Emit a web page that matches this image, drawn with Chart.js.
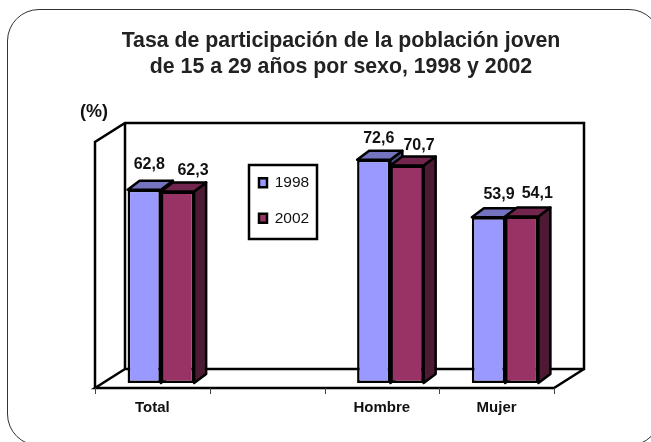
<!doctype html>
<html lang="es">
  <head>
    <meta charset="utf-8">
    <title>Tasa de participación de la población joven</title>
    <style>
      * { margin: 0; padding: 0; }
      html, body { width: 651px; height: 442px; overflow: hidden; background: #fff; }
      .frame {
        position: absolute; left: 7px; top: 9px; width: 652px; height: 435px;
        border: 1.5px solid #333; border-radius: 32px;
      }
      canvas { position: absolute; left: 0; top: 0; }
    </style>
  </head>
  <body>
    <div class="frame"></div>
    <canvas id="myChart" width="651" height="442"></canvas>
    <script src="https://cdn.jsdelivr.net/npm/chart.js/dist/chart.umd.min.js"></script>
    <script>
    // data
    const categories = ['Total', '', 'Hombre', 'Mujer'];
    const values1998 = [62.8, null, 72.6, 53.9];
    const values2002 = [62.3, null, 70.7, 54.1];
    const seriesNames = ['1998', '2002'];
    const titleLines = ['Tasa de participación de la población joven', 'de 15 a 29 años por sexo, 1998 y 2002'];
    const unitLabel = '(%)';

    // nudges for the value labels, same order as the series [dx, dy]
    const labelNudge = [
      [[5, -25], null, [5, -21], [10.5, -23]],
      [[15.5, -21], null, [12, -20], [15.5, -23]]
    ];

    const depth = { x: 30, y: 19 };    // back wall offset
    const barShift = { x: 8.5, y: -5 }; // bars stand a bit inside the floor
    const barDepth = { x: 12, y: 9 };

    function poly(ctx, pts, fill) {
      ctx.beginPath();
      pts.forEach((p, i) => i ? ctx.lineTo(p[0], p[1]) : ctx.moveTo(p[0], p[1]));
      ctx.closePath();
      ctx.fillStyle = fill;
      ctx.fill();
      ctx.stroke();
    }

    const box3d = {
      id: 'box3d',
      beforeDraw(chart) {
        const ctx = chart.ctx;
        // legend box, then move the legend into it
        ctx.save();
        ctx.strokeStyle = '#000';
        ctx.lineWidth = 2.5;
        ctx.strokeRect(249, 165, 68, 74);
        ctx.restore();
        chart.legend.left = 239;
        chart.legend.right = 330;
        chart.legend.top = 155;
        chart.legend.bottom = 300;
        // title sits right of the canvas centre
        chart.titleBlock.left = 31;
        chart.titleBlock.right = 651;
      },
      beforeDatasetsDraw(chart) {
        const { ctx, chartArea: a } = chart;
        const bx = a.left + depth.x, by = a.top - depth.y;
        const bb = a.bottom - depth.y, br = a.right + depth.x;
        ctx.save();
        ctx.strokeStyle = '#000';
        ctx.lineWidth = 2.5;
        ctx.lineJoin = 'miter';
        // walls and floor
        ctx.beginPath();
        ctx.moveTo(a.left, a.bottom);
        ctx.lineTo(a.left, a.top);
        ctx.lineTo(bx, by);
        ctx.lineTo(br, by);
        ctx.lineTo(br, bb);
        ctx.lineTo(bx, bb);
        ctx.lineTo(bx, by);
        ctx.moveTo(bx, bb);
        ctx.lineTo(a.left, a.bottom);
        ctx.lineTo(a.right, a.bottom);
        ctx.lineTo(br, bb);
        ctx.stroke();
        // axis ticks
        ctx.lineWidth = 1;
        ctx.strokeStyle = '#444';
        const step = (a.right - a.left) / categories.length;
        ctx.beginPath();
        for (let i = 0; i <= categories.length; i++) {
          const x = Math.round(a.left + i * step) + 0.5;
          ctx.moveTo(x, a.bottom);
          ctx.lineTo(x, a.bottom + 6);
        }
        ctx.stroke();
        ctx.restore();

        // bars are drawn shifted, restored in afterDatasetsDraw
        ctx.save();
        ctx.translate(barShift.x, barShift.y);
        ctx.strokeStyle = '#000';
        ctx.lineWidth = 2.5;
        ctx.lineJoin = 'round';
        categories.forEach((c, i) => {
          chart.data.datasets.forEach((ds, d) => {
            if (ds.data[i] == null) return;
            const bar = chart.getDatasetMeta(d).data[i];
            const l = bar.x - bar.width / 2, r = bar.x + bar.width / 2;
            poly(ctx, [[r, bar.y], [r + barDepth.x, bar.y - barDepth.y],
              [r + barDepth.x, bar.base - barDepth.y], [r, bar.base]], ds.sideColor);
            poly(ctx, [[l, bar.y], [l + barDepth.x, bar.y - barDepth.y],
              [r + barDepth.x, bar.y - barDepth.y], [r, bar.y]], ds.topColor);
          });
        });
      },
      afterDatasetsDraw(chart) {
        const ctx = chart.ctx;
        ctx.restore();
        ctx.save();
        ctx.fillStyle = '#111';
        ctx.font = 'bold 16px "Liberation Sans", Arial, sans-serif';
        ctx.textAlign = 'center';
        ctx.textBaseline = 'middle';
        chart.data.datasets.forEach((ds, d) => {
          chart.getDatasetMeta(d).data.forEach((bar, i) => {
            if (ds.data[i] == null) return;
            const n = labelNudge[d][i];
            const text = ds.data[i].toFixed(1).replace('.', ',');
            ctx.fillText(text, bar.x + barShift.x + n[0], bar.y + barShift.y + n[1]);
          });
        });
        ctx.font = 'bold 18px "Liberation Sans", Arial, sans-serif';
        ctx.fillText(unitLabel, 94, 112);
        ctx.restore();
      }
    };

    const config = {
      type: 'bar',
      data: {
        labels: categories,
        datasets: [
          { label: seriesNames[0], data: values1998, backgroundColor: '#9999FF', borderColor: '#000', borderWidth: 2.5, borderSkipped: false, sideColor: '#4D4D80', topColor: '#7373BF', clip: false },
          { label: seriesNames[1], data: values2002, backgroundColor: '#993366', borderColor: '#000', borderWidth: 2.5, borderSkipped: false, sideColor: '#4D1A33', topColor: '#73264D', clip: false }
        ]
      },
      options: {
        responsive: false,
        animation: false,
        layout: { padding: { left: 95, right: 97, top: 20, bottom: 22 } },
        datasets: { bar: { categoryPercentage: 0.58, barPercentage: 1 } },
        scales: {
          x: {
            grid: { display: false },
            border: { display: false },
            ticks: {
              color: '#111',
              padding: 3,
              maxRotation: 0,
              autoSkip: false,
              font: { family: '"Liberation Sans", Arial, sans-serif', size: 15, weight: 'bold' }
            }
          },
          y: { display: false, min: 0, max: 80 }
        },
        plugins: {
          title: {
            display: true,
            text: titleLines,
            color: '#222',
            font: { family: '"Liberation Sans", Arial, sans-serif', size: 21.3, weight: 'bold', lineHeight: 1.22 },
            padding: { top: 8, bottom: 62 }
          },
          legend: {
            position: 'chartArea',
            align: 'start',
            labels: {
              boxWidth: 8,
              boxHeight: 9,
              padding: 20,
              color: '#111',
              font: { family: '"Liberation Sans", Arial, sans-serif', size: 15.5 }
            }
          },
          tooltip: { enabled: false }
        }
      },
      plugins: [box3d]
    };

    const myChart = new Chart(document.getElementById('myChart'), config);
    </script>
  </body>
</html>
